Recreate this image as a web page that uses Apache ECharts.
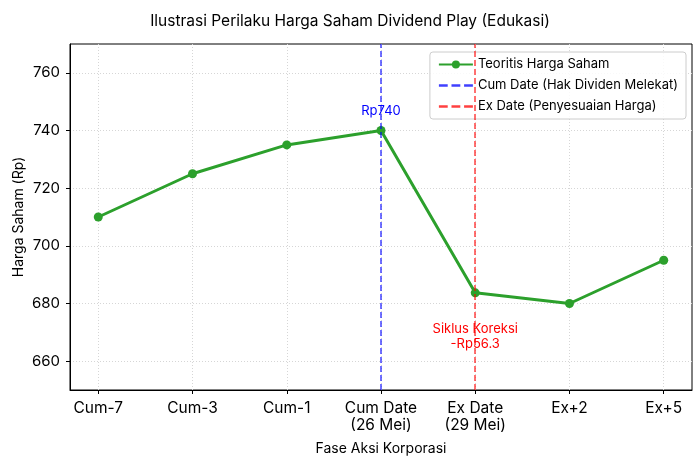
<!DOCTYPE html>
<html><head><meta charset="utf-8">
<script src="https://cdn.jsdelivr.net/npm/echarts@6/dist/echarts.min.js"></script>
<style>html,body{margin:0;padding:0;background:#fff}#c{width:700px;height:464px}</style>
</head><body><div id="c"></div>
<script>
const categories = ['Cum-7','Cum-3','Cum-1','Cum Date\n(26 Mei)','Ex Date\n(29 Mei)','Ex+2','Ex+5'];
const prices = [710, 725, 735, 740, 683.7, 680, 695];
const yTicks = [660, 680, 700, 720, 740, 760];
const cumIndex = 3;
const exIndex = 4;
const correction = prices[cumIndex] - prices[exIndex];
const noteY = 668.5;

const F = 'Inter, "Noto Sans", sans-serif';
const DASH_ICON = 'path://M0,0H7V2H0Z M10,0H17V2H10Z M20,0H27V2H20Z';
const xIdx = categories.map((_, i) => i);
const chart = echarts.init(document.getElementById('c'));
chart.setOption({
  animation: false,
  title: {text: 'Ilustrasi Perilaku Harga Saham Dividend Play (Edukasi)', left: 'center', top: 8,
    textStyle: {fontFamily: F, fontSize: 15.5, fontWeight: 'normal', color: '#000'}},
  grid: {left: 70, right: 8, top: 44, bottom: 74, outerBoundsMode: 'none', containLabel: false,
    show: true, borderColor: '#000', borderWidth: 1},
  legend: {right: 14, top: 52, orient: 'vertical', itemWidth: 34, itemHeight: 10, itemGap: 8,
    padding: [6, 8, 6, 8], backgroundColor: 'rgba(255,255,255,0.85)', borderColor: '#ccc', borderWidth: 1, borderRadius: 3,
    textStyle: {fontFamily: F, fontSize: 13, color: '#000'},
    data: [{name: 'Teoritis Harga Saham'},
      {name: 'Cum Date (Hak Dividen Melekat)', icon: DASH_ICON, itemHeight: 2},
      {name: 'Ex Date (Penyesuaian Harga)', icon: DASH_ICON, itemHeight: 2}]},
  xAxis: {type: 'value', min: -0.3, max: 6.3,
    name: 'Fase Aksi Korporasi', nameLocation: 'middle', nameGap: 52, nameMoveOverlap: false,
    nameTextStyle: {fontFamily: F, fontSize: 14, color: '#000'},
    axisLine: {show: true, onZero: false, lineStyle: {color: '#000'}},
    axisTick: {show: true, customValues: xIdx, length: 4, lineStyle: {color: '#000'}},
    axisLabel: {customValues: xIdx, formatter: v => categories[Math.round(v)], fontFamily: F, fontSize: 15.5, color: '#000', lineHeight: 17, margin: 10},
    splitLine: {show: true, lineStyle: {color: '#d6d6d6', type: [1, 2]}}},
  yAxis: {type: 'value', min: 650, max: 770,
    name: 'Harga Saham (Rp)', nameLocation: 'middle', nameGap: 44, nameMoveOverlap: false,
    nameTextStyle: {fontFamily: F, fontSize: 14, color: '#000'},
    axisLine: {show: true, onZero: false, lineStyle: {color: '#000'}},
    axisTick: {show: true, customValues: yTicks, length: 4, lineStyle: {color: '#000'}},
    axisLabel: {customValues: yTicks, fontFamily: F, fontSize: 15, color: '#000', margin: 10},
    splitLine: {show: true, lineStyle: {color: '#d6d6d6', type: [1, 2]}}},
  series: [
    {name: 'Cum Date (Hak Dividen Melekat)', type: 'line', data: [], symbol: 'none', z: 3,
      itemStyle: {color: 'rgba(0,0,255,0.75)'}, lineStyle: {color: 'rgba(0,0,255,0.75)', type: [6, 3], width: 1.5},
      markLine: {silent: true, symbol: 'none', label: {show: false},
        lineStyle: {color: 'rgba(0,0,255,0.75)', type: [6, 3], width: 1.5}, data: [{xAxis: cumIndex}]}},
    {name: 'Ex Date (Penyesuaian Harga)', type: 'line', data: [], symbol: 'none', z: 3,
      itemStyle: {color: 'rgba(255,0,0,0.75)'}, lineStyle: {color: 'rgba(255,0,0,0.75)', type: [6, 3], width: 1.5},
      markLine: {silent: true, symbol: 'none', label: {show: false},
        lineStyle: {color: 'rgba(255,0,0,0.75)', type: [6, 3], width: 1.5}, data: [{xAxis: exIndex}]}},
    {name: 'Teoritis Harga Saham', type: 'line', z: 2, data: prices.map((p, i) => [i, p]),
      symbol: 'circle', symbolSize: 9, itemStyle: {color: '#2ca02c'}, lineStyle: {color: '#2ca02c', width: 3},
      markPoint: {silent: true, symbol: 'circle', symbolSize: 0,
        data: [
          {coord: [cumIndex, prices[cumIndex]], label: {show: true, formatter: 'Rp' + prices[cumIndex], position: 'top', distance: 13,
            fontFamily: F, fontSize: 13, color: '#0000ff'}},
          {coord: [exIndex, noteY], label: {show: true, formatter: 'Siklus Koreksi\n-Rp' + correction.toFixed(1), position: 'inside',
            fontFamily: F, fontSize: 13, lineHeight: 15, color: '#ff0000', align: 'center'}}
        ]}}
  ]
});
</script></body></html>
